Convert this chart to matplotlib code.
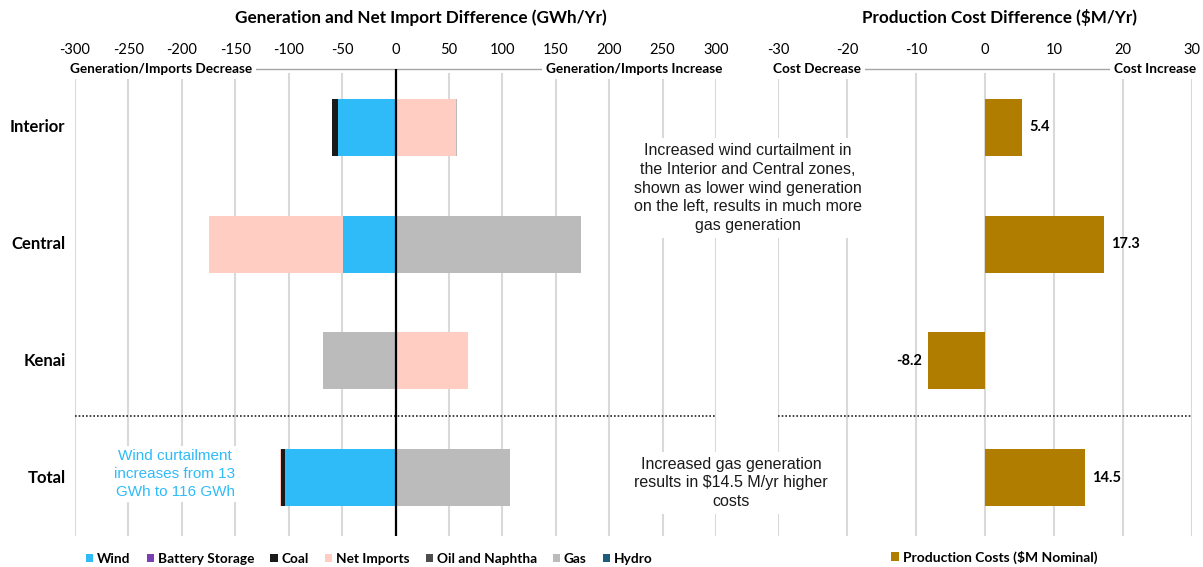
import matplotlib
matplotlib.use("Agg")
import matplotlib.pyplot as plt
from matplotlib.patches import Patch
import numpy as np

plt.rcParams['font.family'] = ['Lato', 'DejaVu Sans']
NOTE_FONT = ['Liberation Sans', 'DejaVu Sans']

# ---- data ----
zones = ["Interior", "Central", "Kenai", "Total"]
resources = ["Wind", "Battery Storage", "Coal", "Net Imports", "Oil and Naphtha", "Gas", "Hydro"]
colors = {"Wind": "#2EBBF8", "Battery Storage": "#7B3FB5", "Coal": "#1A1A1A",
          "Net Imports": "#FFCDC1", "Oil and Naphtha": "#4D4D4D", "Gas": "#BBBBBB",
          "Hydro": "#1F5C7C"}
# GWh/yr difference by resource, per zone (Interior, Central, Kenai, Total)
wind = [-54, -49, 0, -103]
battery = [0, 0, 0, 0]
coal = [-5, 0, 0, -4]
net_imports = [57, -126, 68, -1]
oil_naphtha = [0, 0, 0, 0]
gas = [1, 174, -68, 107]
hydro = [0, 0, 0, 0]
gen_values = {"Wind": wind, "Battery Storage": battery, "Coal": coal,
              "Net Imports": net_imports, "Oil and Naphtha": oil_naphtha,
              "Gas": gas, "Hydro": hydro}
cost_diff = [5.4, 17.3, -8.2, 14.5]   # $M/yr
cost_color = "#B07D00"

gen_ticks = list(range(-300, 301, 50))
cost_ticks = list(range(-30, 31, 10))

W, H = 1203, 567
fig = plt.figure(figsize=(W / 100, H / 100), dpi=100)
bot, top = 1 - 536 / H, 1 - 69 / H
axL = fig.add_axes([75 / W, bot, (716 - 75) / W, top - bot])
axR = fig.add_axes([778 / W, bot, (1192 - 778) / W, top - bot])

y = np.arange(len(zones))
bar_h = 0.49
grid_c = "#D9D9D9"


def style_axis(ax, ticks, lo_label, hi_label, lo_x, hi_x):
    ax.set_xlim(ticks[0], ticks[-1])
    ax.set_ylim(len(zones) - 0.5, -0.5)
    ax.set_xticks(ticks)
    ax.set_xticklabels([str(t) for t in ticks], fontsize=10.5)
    ax.xaxis.tick_top()
    ax.tick_params(axis='x', length=0, pad=9)
    ax.set_yticks([])
    for s in ["left", "right", "bottom"]:
        ax.spines[s].set_visible(False)
    ax.spines["top"].set_color("#A6A6A6")
    ax.spines["top"].set_linewidth(1.0)
    for t in ticks:
        ax.axvline(t, color=grid_c, lw=1.5, zorder=0, ymax=0.99)
    ax.axhline(2.47, color="#222222", lw=1.2, ls=(0, (1, 1.2)), zorder=1)
    ax.text(lo_x, 1.0, lo_label, transform=ax.transAxes, ha="left", va="center",
            fontsize=9.8, fontweight="bold", zorder=5, clip_on=False,
            bbox=dict(facecolor="white", edgecolor="none", pad=3))
    ax.text(hi_x, 1.0, hi_label, transform=ax.transAxes, ha="right", va="center",
            fontsize=9.8, fontweight="bold", zorder=5, clip_on=False,
            bbox=dict(facecolor="white", edgecolor="none", pad=3))


style_axis(axL, gen_ticks, "Generation/Imports Decrease", "Generation/Imports Increase",
           -0.008, 1.01)
style_axis(axR, cost_ticks, "Cost Decrease", "Cost Increase", -0.012, 1.01)

# stacked generation bars, positives and negatives stacked separately
pos = np.zeros(len(zones))
neg = np.zeros(len(zones))
for r in resources:
    v = np.array(gen_values[r], dtype=float)
    left = np.where(v >= 0, pos, neg)
    axL.barh(y, v, left=left, height=bar_h, color=colors[r], zorder=2)
    pos += np.where(v >= 0, v, 0)
    neg += np.where(v < 0, v, 0)
axL.axvline(0, color="black", lw=1.6, zorder=3)

for i, z in enumerate(zones):
    axL.text(-0.015, i, z, transform=axL.get_yaxis_transform(), ha="right",
             va="center", fontsize=12, fontweight="bold")

# production cost bars
axR.barh(y, cost_diff, height=bar_h, color=cost_color, zorder=2)
for i, v in enumerate(cost_diff):
    if v >= 0:
        axR.text(v + 1.0, i, f"{v:.1f}", ha="left", va="center", fontsize=10.5,
                 fontweight="bold")
    else:
        axR.text(v - 1.0, i, f"{v:.1f}", ha="right", va="center", fontsize=10.5,
                 fontweight="bold")

# titles
fig.text(421 / W, 1 - 18 / H, "Generation and Net Import Difference (GWh/Yr)",
         ha="center", va="center", fontsize=12.3, fontweight="bold")
fig.text(1000 / W, 1 - 18 / H, "Production Cost Difference ($M/Yr)",
         ha="center", va="center", fontsize=12.3, fontweight="bold")

# annotations
fig.text(748 / W, 1 - 188 / H,
         "Increased wind curtailment in\nthe Interior and Central zones,\n"
         "shown as lower wind generation\non the left, results in much more\n"
         "gas generation",
         ha="center", va="center", fontsize=11.5, linespacing=1.33, zorder=10,
         family=NOTE_FONT, color="#1A1A1A",
         bbox=dict(facecolor="white", edgecolor="none", pad=3))
fig.text(731 / W, 1 - 483 / H,
         "Increased gas generation\nresults in $14.5 M/yr higher\ncosts",
         ha="center", va="center", fontsize=11.5, linespacing=1.33, zorder=10,
         family=NOTE_FONT, color="#1A1A1A",
         bbox=dict(facecolor="white", edgecolor="none", pad=3))
fig.text(175 / W, 1 - 474 / H,
         "Wind curtailment\nincreases from 13\nGWh to 116 GWh",
         ha="center", va="center", fontsize=11, linespacing=1.4,
         family=NOTE_FONT, color="#2EBBF8", zorder=10,
         bbox=dict(facecolor="white", edgecolor="none", pad=2))

# legends
handles = [Patch(facecolor=colors[r], edgecolor="none", label=r) for r in resources]
fig.legend(handles=handles, loc="center left", bbox_to_anchor=(86 / W, 1 - 559 / H),
           ncol=7, frameon=False, borderpad=0, borderaxespad=0,
           handlelength=0.55, handleheight=0.55, handletextpad=0.25,
           columnspacing=1.2, prop={"weight": "bold", "size": 9.8})
fig.legend(handles=[Patch(facecolor=cost_color, edgecolor="none",
                          label="Production Costs ($M Nominal)")],
           loc="center left", bbox_to_anchor=(891 / W, 1 - 557 / H), frameon=False,
           borderpad=0, borderaxespad=0,
           handlelength=0.55, handleheight=0.55, handletextpad=0.3,
           prop={"weight": "bold", "size": 10})

fig.savefig("out.png", dpi=100, facecolor="white")
